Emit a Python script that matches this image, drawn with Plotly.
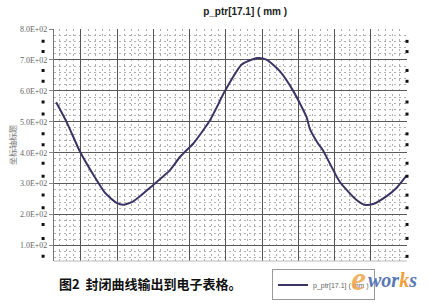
import plotly.graph_objects as go

# ---- data ----
x_vals = [-6.8, -3.9, -0.2, 3.5, 6.7, 9.9, 11.7, 14.5, 20.0, 24.6, 27.4, 29.6, 31.0,
          35.6, 39.8, 44.4, 48.7, 51.2, 54.9, 58.6, 62.3, 63.2, 65.5, 66.8, 71.4,
          76.0, 78.3, 80.6, 84.3, 87.1, 89.8]
y_vals = [563, 499, 403, 328, 270, 238, 232, 243, 296, 344, 387, 413, 429,
          504, 600, 685, 706, 701, 664, 600, 515, 477, 429, 408, 307,
          248, 232, 234, 259, 286, 325]
x_major = [0, 10, 20, 30, 40, 50, 60, 70, 80, 90]
y_tick_vals = [100, 200, 300, 400, 500, 600, 700, 800]
y_tick_text = ["1.0E+02", "2.0E+02", "3.0E+02", "4.0E+02", "5.0E+02", "6.0E+02", "7.0E+02", "8.0E+02"]
dot_vals = [760, 727, 666, 631, 564, 525, 461, 426, 366, 324, 263, 222, 168, 123, 65]

series_name = "p_ptr[17.1] ( mm )"
title_text = "p_ptr[17.1] ( mm )"
y_title = "坐标轴标题"
caption = "图2  封闭曲线输出到电子表格。"

fig = go.Figure()
fig.add_trace(go.Scatter(x=x_vals, y=y_vals, mode="lines", name=series_name,
                         line=dict(color="#3b3566", width=2, shape="spline", smoothing=0.6)))
# dot column left of the axis (own narrow subplot)
fig.add_trace(go.Scatter(x=[0.5] * len(dot_vals), y=dot_vals, mode="markers",
                         marker=dict(symbol="square", size=3, color="#111"),
                         showlegend=False, hoverinfo="skip", xaxis="x2", yaxis="y2"))
# dot column on the right edge
fig.add_trace(go.Scatter(x=[90] * len(dot_vals), y=dot_vals, mode="markers",
                         marker=dict(symbol="square", size=3, color="#111"),
                         showlegend=False, cliponaxis=False, hoverinfo="skip"))

minor_grid = dict(showgrid=True, gridcolor="#b0b0b0", griddash="2px,3px", gridwidth=1)

fig.update_layout(
    width=430, height=304,
    margin=dict(l=4, r=23, t=29, b=41),
    paper_bgcolor="white", plot_bgcolor="white",
    title=dict(text="<b>" + title_text + "</b>", x=0.57, xanchor="center", y=0.962, yanchor="middle",
               font=dict(family="Liberation Sans", size=10, color="#222")),
    showlegend=True,
    legend=dict(x=0.665, y=-0.103, xanchor="left", yanchor="middle", orientation="h",
                bgcolor="white", bordercolor="#999", borderwidth=1,
                font=dict(family="Liberation Sans", size=7, color="#666"),
                itemwidth=30, tracegroupgap=0),
    font=dict(family="Liberation Serif"),
    xaxis=dict(domain=[0.124, 1], anchor="y", range=[-7.4, 90], tickvals=x_major,
               showticklabels=False, ticks="", showgrid=True, gridcolor="#555", gridwidth=1,
               zeroline=False, showline=False,
               minor=dict(dtick=2, tick0=0, **minor_grid)),
    yaxis=dict(domain=[0, 1], anchor="x", range=[50, 800], tickvals=y_tick_vals, ticktext=y_tick_text,
               tickfont=dict(family="Liberation Serif", size=8, color="#666"),
               ticks="outside", ticklen=4, tickcolor="#888",
               showgrid=True, gridcolor="#5a5a5a", gridwidth=1, zeroline=False,
               showline=True, linecolor="#777", linewidth=1,
               minor=dict(dtick=20, tick0=0, **minor_grid),
               title=dict(text=y_title, font=dict(family="Noto Sans CJK SC", size=8, color="#777"), standoff=2)),
    xaxis2=dict(domain=[0.09, 0.104], range=[0, 1], visible=False, anchor="y2"),
    yaxis2=dict(domain=[0, 1], range=[50, 800], visible=False, anchor="x2"),
)

# bottom border of plot area
fig.add_shape(type="line", xref="x domain", yref="paper", x0=0, x1=1, y0=0, y1=0,
              line=dict(color="#bbb", width=1))

fig.add_annotation(text="<b>" + caption + "</b>", xref="paper", yref="paper",
                   x=0.1315, y=-0.095, xanchor="left", yanchor="middle", showarrow=False,
                   font=dict(family="Noto Sans CJK SC", size=13, color="#111"))
fig.add_annotation(text="<i><b>e</b></i>", xref="paper", yref="paper",
                   x=0.88, y=-0.075, xanchor="center", yanchor="middle", showarrow=False,
                   font=dict(family="Liberation Serif", size=34, color="#f0a040"), opacity=0.8)
fig.add_annotation(text="<i><b>wor<span style='color:#f0a040'>k</span>s</b></i>", xref="paper", yref="paper",
                   x=1.03, y=-0.08, xanchor="right", yanchor="middle", showarrow=False,
                   font=dict(family="Liberation Serif", size=20, color="#5a78b4"))

fig.write_html("out.html")
